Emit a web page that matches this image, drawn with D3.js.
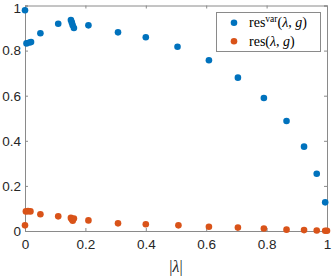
<!DOCTYPE html>
<html>
<head>
<meta charset="utf-8">
<script src="https://cdn.jsdelivr.net/npm/d3@7"></script>
<style>
  body { margin: 0; background: #fff; }
  text { font-family: "Liberation Sans", Arial, sans-serif; }
</style>
</head>
<body>
<div id="chart"></div>
<script>
// |lambda| and residual values
var lamVar = [0, 0.005, 0.015, 0.02, 0.051, 0.11, 0.152, 0.155, 0.158, 0.162, 0.21, 0.308, 0.40, 0.505, 0.609, 0.705, 0.791, 0.866, 0.924, 0.966, 0.994];
var resVar = [0.979, 0.832, 0.836, 0.838, 0.877, 0.919, 0.936, 0.925, 0.912, 0.900, 0.912, 0.881, 0.859, 0.817, 0.757, 0.680, 0.590, 0.488, 0.374, 0.254, 0.127];
var lamRes = [0, 0.003, 0.01, 0.018, 0.051, 0.11, 0.152, 0.155, 0.158, 0.162, 0.21, 0.308, 0.40, 0.508, 0.609, 0.705, 0.791, 0.866, 0.924, 0.966, 0.994, 1.0];
var resVals = [0.025, 0.087, 0.088, 0.087, 0.074, 0.065, 0.058, 0.052, 0.046, 0.055, 0.047, 0.034, 0.030, 0.025, 0.019, 0.015, 0.011, 0.006, 0.004, 0.002, 0.001, 0.001];
var xTicks = [0, 0.2, 0.4, 0.6, 0.8, 1];
var yTicks = [0, 0.2, 0.4, 0.6, 0.8, 1];

var svgWidth = 332;
var svgHeight = 276;
var margin = { top: 5.5, right: 5, bottom: 45, left: 25 };
var chartWidth = svgWidth - margin.left - margin.right;
var chartHeight = svgHeight - margin.top - margin.bottom;

var svg = d3.select("#chart")
    .append("svg")
    .attr("width", svgWidth)
    .attr("height", svgHeight);

var chartGroup = svg.append("g")
    .attr("transform", `translate(${margin.left}, ${margin.top})`);

var xScale = d3.scaleLinear().domain([0, 1]).range([0, chartWidth]);
var yScale = d3.scaleLinear().domain([0, 1]).range([chartHeight, 0]);

var axisColor = "#8a8a8a";
var fmt = d => d === 0 ? "0" : d === 1 ? "1" : d3.format(".1f")(d);

// axes with inward ticks (box on)
var bottomAxis = d3.axisBottom(xScale).tickValues(xTicks).tickSize(-3).tickPadding(8).tickFormat(fmt);
var leftAxis = d3.axisLeft(yScale).tickValues(yTicks).tickSize(-3).tickPadding(4).tickFormat(fmt);
var topAxis = d3.axisTop(xScale).tickValues(xTicks).tickSize(-3).tickFormat("");
var rightAxis = d3.axisRight(yScale).tickValues(yTicks).tickSize(-3).tickFormat("");

function style(g) {
    g.selectAll("path, line").attr("stroke", axisColor);
    g.selectAll("text").attr("fill", "#262626").style("font-size", "13.5px")
        .style("font-family", "Liberation Sans, Arial, sans-serif");
}

chartGroup.append("g").attr("transform", `translate(0, ${chartHeight})`).call(bottomAxis).call(style);
var yAxisG = chartGroup.append("g").call(leftAxis).call(style);
// keep the top "1" inside the picture
yAxisG.selectAll(".tick text").filter(d => d === 1).attr("dy", "0.5em");
chartGroup.append("g").call(topAxis).call(style);
chartGroup.append("g").attr("transform", `translate(${chartWidth}, 0)`).call(rightAxis).call(style);

var blue = "#0072BD";
var orange = "#D95319";

chartGroup.selectAll(".var")
    .data(lamVar)
    .enter()
    .append("circle")
    .attr("cx", d => xScale(d))
    .attr("cy", (d, i) => yScale(resVar[i]))
    .attr("r", 3.3)
    .attr("fill", blue);

chartGroup.selectAll(".res")
    .data(lamRes)
    .enter()
    .append("circle")
    .attr("cx", d => xScale(d))
    .attr("cy", (d, i) => yScale(resVals[i]))
    .attr("r", 3.3)
    .attr("fill", orange);

// x axis label |λ|
var xl = svg.append("text")
    .attr("x", 176)
    .attr("y", 272)
    .attr("text-anchor", "middle")
    .style("fill", "#262626")
    .style("font-family", "Liberation Serif, serif")
    .style("font-size", "16px");
xl.append("tspan").style("fill", "#262626").text("|");
xl.append("tspan").style("fill", "#262626").style("font-style", "italic").text("λ");
xl.append("tspan").style("fill", "#262626").text("|");

// legend
var legend = svg.append("g");
legend.append("rect")
    .attr("x", 216.5).attr("y", 12.5)
    .attr("width", 104).attr("height", 39)
    .attr("fill", "#fff")
    .attr("stroke", axisColor);

var entries = [
    { color: blue, sup: "var" },
    { color: orange, sup: null }
];
entries.forEach(function (e, i) {
    var cy = 22.7 + i * 18.6;
    legend.append("circle").attr("cx", 234).attr("cy", cy).attr("r", 3.3).attr("fill", e.color);
    var t = legend.append("text")
        .attr("x", 249).attr("y", cy + 4.5)
        .attr("fill", "#000")
        .style("font-family", "Liberation Serif, serif")
        .style("font-size", "14px");
    t.append("tspan").text("res");
    if (e.sup) {
        t.append("tspan").attr("dy", -5).style("font-size", "9.5px").text(e.sup);
        t.append("tspan").attr("dy", 5).text("(");
    } else {
        t.append("tspan").text("(");
    }
    t.append("tspan").style("font-style", "italic").text("λ");
    t.append("tspan").text(", ");
    t.append("tspan").style("font-style", "italic").text("g");
    t.append("tspan").text(")");
});
</script>
</body>
</html>
